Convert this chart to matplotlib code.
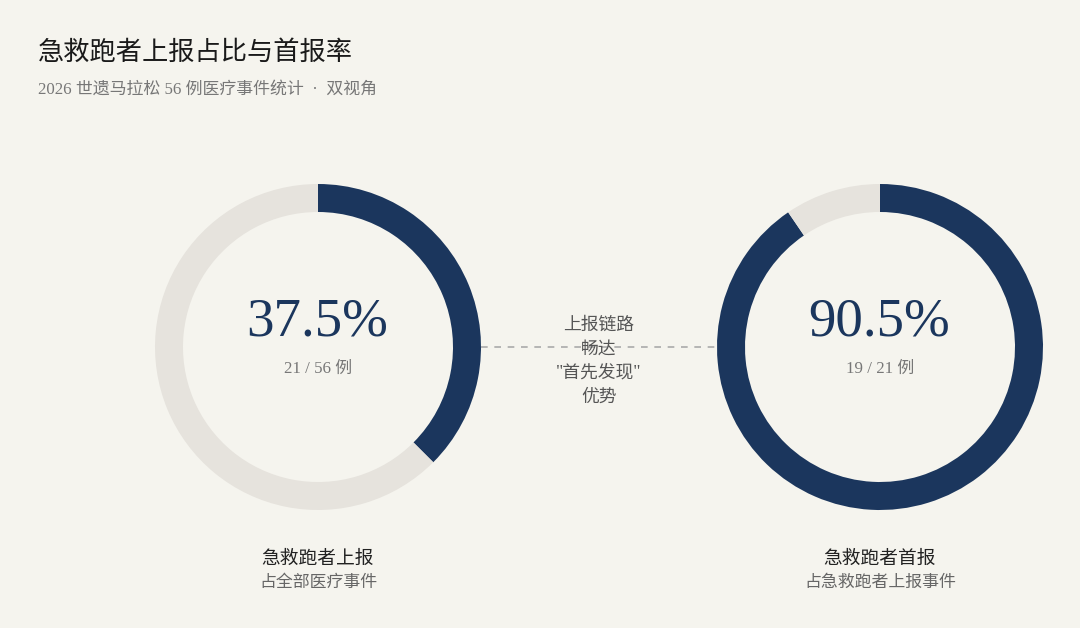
import matplotlib.pyplot as plt

plt.rcParams["font.family"] = ["Liberation Serif", "Noto Sans CJK SC", "DejaVu Sans"]

# data
labels = ["急救跑者上报", "急救跑者首报"]
sub_labels = ["占全部医疗事件", "占急救跑者上报事件"]
counts = [21, 19]
totals = [56, 21]
unit = "例"
title = "急救跑者上报占比与首报率"
subtitle = "2026 世遗马拉松 56 例医疗事件统计  ·  双视角"
middle_note = ["上报链路", "畅达", "\"首先发现\"", "优势"]

BG = "#f5f4ee"
NAVY = "#1b365d"
TRACK = "#e6e3dd"

W, H = 1080, 628
fig = plt.figure(figsize=(W / 100, H / 100), dpi=100, facecolor=BG)
ax = fig.add_axes([0, 0, 1, 1])
ax.set_facecolor(BG)

centers = [(318, H - 347), (880, H - 347)]
radius = 163
ring = 28

for (cx, cy), lab, sub, n, tot in zip(centers, labels, sub_labels, counts, totals):
    frac = n / tot
    ax.pie(
        [frac, 1 - frac],
        colors=[NAVY, TRACK],
        startangle=90,
        counterclock=False,
        center=(cx, cy),
        radius=radius,
        wedgeprops=dict(width=ring, linewidth=0),
        frame=True,
    )
    ax.text(cx - 1, cy + 25, f"{frac * 100:.1f}%", ha="center", va="center",
            fontsize=39.5, color=NAVY)
    ax.text(cx, cy - 22, f"{n} / {tot} {unit}", ha="center", va="center",
            fontsize=12.2, color="#777777")
    ax.text(cx, H - 559, lab, ha="center", va="center", fontsize=13.5,
            color="#222222")
    ax.text(cx, H - 583, sub, ha="center", va="center", fontsize=12.2,
            color="#666666")

ax.set_xlim(0, W)
ax.set_ylim(0, H)
ax.set_aspect("equal")
ax.axis("off")

# connector between the two rings
ax.plot([centers[0][0] + radius, centers[1][0] - radius], [H - 347, H - 347],
        color="#aaaaaa", lw=1.2, ls=(0, (4, 4)), zorder=1)
for i, line in enumerate(middle_note):
    ax.text(599, H - 325 - 24 * i, line, ha="center", va="center",
            fontsize=12.8, color="#555555", zorder=3)

fig.text(38 / W, 1 - 52 / H, title, ha="left", va="center", fontsize=18.9,
         color="#1a1a1a")
fig.text(38 / W, 1 - 90 / H, subtitle, ha="left", va="center", fontsize=12.2,
         color="#777777")

fig.savefig("out.png", dpi=100, facecolor=BG)
